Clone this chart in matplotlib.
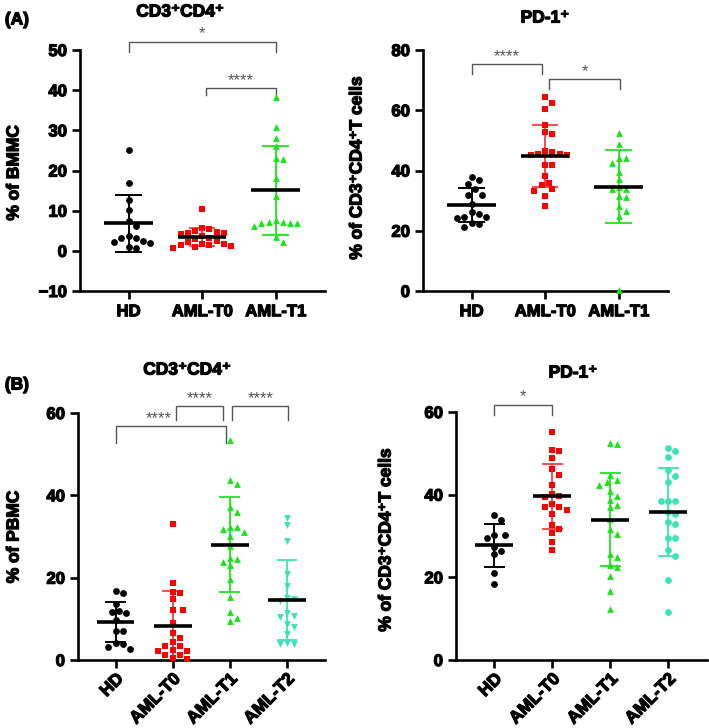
import numpy as np
import matplotlib.pyplot as plt
import matplotlib.patheffects as pe

plt.rcParams['font.family'] = ['Liberation Sans', 'DejaVu Sans']
plt.rcParams['font.weight'] = 'bold'

groups_a = ['HD', 'AML-T0', 'AML-T1']
groups_b = ['HD', 'AML-T0', 'AML-T1', 'AML-T2']

# (A) bone marrow, CD3+CD4+ % of BMMC
a_cd4_hd = [25.0, 16.8, 12.7, 10.1, 7.5, 6.2, 2.4, 2.2, 3.6, 1.9, 3.2, 3.2, 0.9, 0.7]
a_cd4_t0 = [10.5, 5.0, 4.8, 5.8, 5.5, 4.4, 4.4, 4.1, 3.6, 3.2, 2.9, 2.5, 2.3, 1.8,
            1.6, 1.5, 1.4, 1.2, 1.0, 0.8]
a_cd4_t1 = [38.4, 30.9, 28.2, 26.1, 23.1, 22.8, 18.1, 13.7, 7.7, 7.0, 7.2, 7.3,
            7.0, 6.9, 6.2, 3.4, 2.3]

# (A) PD-1+ % of CD3+CD4+ T cells
a_pd1_hd = [37.7, 36.8, 35.5, 33.7, 32.0, 32.0, 28.8, 26.1, 24.6, 24.1, 24.6,
            25.5, 22.6, 22.4, 21.1]
a_pd1_t0 = [64.5, 62.5, 60.4, 55.2, 52.7, 52.0, 46.2, 45.4, 46.5, 45.0, 45.1,
            45.4, 41.8, 41.7, 38.1, 35.1, 35.9, 33.7, 33.3, 31.6, 28.2]
a_pd1_t1 = [52.6, 48.7, 44.0, 44.0, 42.6, 39.6, 37.1, 34.4, 34.0, 33.7, 31.5,
            31.3, 28.2, 26.6, 24.8, 0.3]

# (B) peripheral blood, CD3+CD4+ % of PBMC
b_cd4_hd = [16.2, 16.8, 13.5, 11.9, 11.3, 11.6, 9.7, 7.1, 7.1, 4.2, 4.0, 3.2, 2.6]
b_cd4_t0 = [33.1, 18.8, 16.3, 16.5, 14.7, 12.1, 12.1, 8.9, 6.6, 5.4, 4.4, 3.4,
            3.4, 2.4, 2.2, 2.2, 1.2, 1.2, 0.6, 0.3]
b_cd4_t1 = [53.4, 43.7, 42.8, 37.2, 36.0, 32.2, 32.3, 31.9, 31.0, 30.2, 27.6,
            24.8, 24.5, 23.0, 23.7, 19.6, 15.2, 11.6, 9.5, 10.1]
b_cd4_t2 = [34.6, 32.8, 28.9, 20.9, 18.0, 14.4, 14.7, 15.0, 11.3, 10.7, 10.4,
            8.1, 8.7, 6.2, 4.2, 4.0, 3.8]

# (B) PD-1+ % of CD3+CD4+ T cells
b_pd1_hd = [35.1, 33.9, 29.4, 30.2, 30.2, 27.4, 26.4, 25.6, 21.1, 18.3]
b_pd1_t0 = [55.2, 50.8, 50.6, 48.8, 46.1, 44.8, 42.3, 40.2, 39.6, 39.4, 37.1,
            36.2, 37.1, 37.8, 35.4, 32.6, 31.8, 30.8, 28.6, 26.6]
b_pd1_t1 = [52.2, 52.4, 43.6, 44.8, 43.1, 42.3, 41.0, 39.6, 38.8, 37.5, 37.0,
            34.1, 31.6, 30.4, 25.0, 25.7, 22.9, 22.4, 20.4, 16.6, 12.3]
b_pd1_t2 = [50.5, 51.3, 49.1, 46.0, 43.0, 44.5, 38.4, 38.4, 38.4, 35.9, 35.3,
            33.4, 33.0, 29.5, 29.6, 26.6, 25.2, 19.4, 11.5]

dot_col = ['#000000', '#ff0000', '#16e616', '#3de3b5']
bar_col = ['#000000', '#ff4a4a', '#2ee62e', '#45e6bb']

# thicken the strokes so the labels read as heavy bold
heavy = [pe.withStroke(linewidth=0.9, foreground='black')]


def swarm_x(ax, x0, vals, d=7.2):
    # simple beeswarm in pixel space
    pix = ax.transData.transform(np.column_stack([np.full(len(vals), float(x0)), vals]))
    order = np.argsort(-np.asarray(vals), kind='stable')
    placed = []
    xs = np.zeros(len(vals))
    cands = [0]
    for k in range(1, 12):
        cands += [k * d / 2, -k * d / 2]
    for i in order:
        yp = pix[i, 1]
        for c in cands:
            xp = pix[i, 0] + c
            if all((xp - px) ** 2 + (yp - py) ** 2 >= d * d for px, py in placed):
                break
        placed.append((xp, yp))
        xs[i] = xp
    return ax.transData.inverted().transform(np.column_stack([xs, pix[:, 1]]))[:, 0]


def panel(rect, groups, data, markers, ylim, yticks, brackets, rotate):
    ax = fig.add_axes(rect)
    n = len(groups)
    ax.set_xlim(-0.66, n - 1 + 0.67)
    ax.set_ylim(*ylim)
    for i, vals in enumerate(data):
        vals = np.asarray(vals)
        xs = swarm_x(ax, i, vals)
        ax.scatter(xs, vals, marker=markers[i], s=24, color=dot_col[i],
                   linewidths=0, zorder=3, clip_on=False)
        m = vals.mean()
        sd = vals.std(ddof=1)
        ax.vlines(i, max(m - sd, ylim[0]), m + sd, color=bar_col[i], lw=1.4, zorder=2)
        ax.hlines([m + sd], i - 0.18, i + 0.18, color=bar_col[i], lw=1.4, zorder=2)
        if m - sd > ylim[0]:
            ax.hlines([m - sd], i - 0.18, i + 0.18, color=bar_col[i], lw=1.4, zorder=2)
        ax.hlines(m, i - 0.33, i + 0.33, color='black', lw=2.6, zorder=4)
    for x1, x2, top, tip, lab, tx in brackets:
        ax.plot([x1, x1, x2, x2], [tip, top, top, tip], color='#555555', lw=1.0,
                clip_on=False)
        ax.text(tx if tx is not None else (x1 + x2) / 2, top, lab, ha='center',
                va='bottom', fontsize=12, color='#555555', fontweight='normal')
    for s in ['top', 'right']:
        ax.spines[s].set_visible(False)
    for s in ['left', 'bottom']:
        ax.spines[s].set_linewidth(1.9)
    ax.set_yticks(yticks)
    ax.set_xticks(range(n))
    ax.tick_params(direction='out', length=6, width=1.9, labelsize=12)
    if rotate:
        ax.tick_params(axis='x', pad=2)
        ax.set_xticklabels(groups, rotation=45, ha='right', rotation_mode='anchor',
                           fontsize=12.5)
    else:
        ax.set_xticklabels(groups)
    for lab in ax.get_xticklabels() + ax.get_yticklabels():
        lab.set_path_effects(heavy)
    return ax


fig = plt.figure(figsize=(7.09, 7.28), dpi=100)
W, H = 709.0, 728.0


def rect(l, r, t, b):
    return [l / W, 1 - b / H, (r - l) / W, (b - t) / H]


panel(rect(80, 325, 50, 291), groups_a, [a_cd4_hd, a_cd4_t0, a_cd4_t1],
      ['o', 's', '^'], (-10, 50), range(-10, 51, 10),
      [(0, 2, 52.1, 49.6, '*', None), (1.05, 2, 40.5, 38.7, '****', None)], False)
panel(rect(423, 668, 50, 291), groups_a, [a_pd1_hd, a_pd1_t0, a_pd1_t1],
      ['o', 's', '^'], (0, 80), range(0, 81, 20),
      [(0, 0.96, 75.3, 72.0, '****', None), (1.05, 2.02, 70.4, 67.0, '*', None)], False)
panel(rect(78, 325, 413, 660), groups_b, [b_cd4_hd, b_cd4_t0, b_cd4_t1, b_cd4_t2],
      ['o', 's', '^', 'v'], (0, 60), range(0, 61, 20),
      [(0, 1.94, 56.8, 52.7, '****', 0.75), (1.06, 1.88, 61.6, 58.2, '****', None),
       (2.04, 3.03, 61.6, 58.2, '****', None)], True)
panel(rect(456, 707, 412, 660), groups_b, [b_pd1_hd, b_pd1_t0, b_pd1_t1, b_pd1_t2],
      ['o', 's', '^', 'o'], (0, 60), range(0, 61, 20),
      [(0, 1.0, 61.8, 59.2, '*', None)], True)

sup = '\u207a'
kw = dict(ha='center', va='center', fontsize=12.5, fontweight='bold', path_effects=heavy)
fig.text(180 / W, 1 - 12 / H, 'CD3' + sup + 'CD4' + sup, **kw)
fig.text(545 / W, 1 - 18 / H, 'PD-1' + sup, **kw)
fig.text(187 / W, 1 - 370 / H, 'CD3' + sup + 'CD4' + sup, **kw)
fig.text(573 / W, 1 - 373 / H, 'PD-1' + sup, **kw)
fig.text(17 / W, 1 - 20 / H, '(A)', **kw)
fig.text(17 / W, 1 - 385 / H, '(B)', **kw)

fig.text(14 / W, 1 - 173 / H, '% of BMMC', rotation=90, **kw)
fig.text(357 / W, 1 - 168 / H, '% of CD3' + sup + 'CD4' + sup + 'T cells', rotation=90, **kw)
fig.text(14 / W, 1 - 537 / H, '% of PBMC', rotation=90, **kw)
fig.text(386 / W, 1 - 540 / H, '% of CD3' + sup + 'CD4' + sup + 'T cells', rotation=90, **kw)

fig.savefig('out.png', dpi=100)
